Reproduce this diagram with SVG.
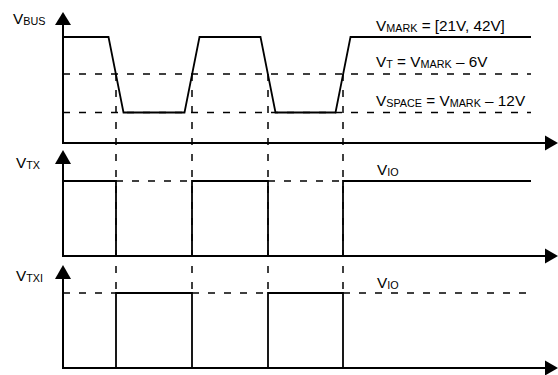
<svg xmlns="http://www.w3.org/2000/svg" width="558" height="375" viewBox="0 0 558 375">
<style>
.ax{fill:none;stroke:#000;stroke-width:2}
.sig{fill:none;stroke:#000;stroke-width:1.8}
.dash{fill:none;stroke:#000;stroke-width:1.5;stroke-dasharray:7 9}
.lbl{font-family:"Liberation Sans",Arial,sans-serif;font-size:15.3px;fill:#000}
.sub{font-size:10.8px}
.ah{fill:#000;stroke:none}
</style>
<rect width="558" height="375" fill="#fff"/>
<g id="connectors">
  <path class="dash" d="M63,74 H531 M63,112.5 H531"/>
  <path class="dash" d="M116,74 V293 M192,74 V293 M268,74 V293 M343,74 V293"/>
  <path class="dash" d="M116,181 H192 M268,181 H343"/>
  <path class="dash" d="M63,293 H116 M192,293 H268 M343,293 H531"/>
</g>
<g id="chart-vbus">
  <path class="ax" d="M63,22 V143 H546"/>
  <polygon class="ah" points="63,12 55,25 71,25"/>
  <polygon class="ah" points="558,143 545,135.5 545,150.5"/>
  <path class="sig" d="M63,37 H108.5 L123.5,112.5 H184.5 L199.5,37 H260.5 L275.5,112.5 H335.5 L350.5,37 H531"/>
  <text class="lbl" x="13" y="24">V<tspan class="sub" dy="1">BUS</tspan></text>
  <text class="lbl" x="376" y="31">V<tspan class="sub" dy="1">MARK</tspan><tspan dy="-1"> = [21V, 42V]</tspan></text>
  <text class="lbl" x="376" y="67">V<tspan class="sub" dy="1">T</tspan><tspan dy="-1"> = V</tspan><tspan class="sub" dy="1">MARK</tspan><tspan dy="-1"> – 6V</tspan></text>
  <text class="lbl" x="376" y="106">V<tspan class="sub" dy="1">SPACE</tspan><tspan dy="-1"> = V</tspan><tspan class="sub" dy="1">MARK</tspan><tspan dy="-1"> – 12V</tspan></text>
</g>
<g id="chart-vtx">
  <path class="ax" d="M63,162 V256 H546"/>
  <polygon class="ah" points="63,150 55,164 71,164"/>
  <polygon class="ah" points="558,256 545,248.5 545,263.5"/>
  <path class="sig" d="M63,181 H116 V256 M192,256 V181 H268 V256 M343,256 V181 H531"/>
  <text class="lbl" x="16" y="168">V<tspan class="sub" dy="1">TX</tspan></text>
  <text class="lbl" x="377" y="175">V<tspan class="sub" dy="1">IO</tspan></text>
</g>
<g id="chart-vtxi">
  <path class="ax" d="M63,277 V368 H546"/>
  <polygon class="ah" points="63,265 55,279 71,279"/>
  <polygon class="ah" points="558,368 545,360.5 545,375.5"/>
  <path class="sig" d="M116,368 V293 H192 V368 M268,368 V293 H343 V368"/>
  <text class="lbl" x="16" y="281">V<tspan class="sub" dy="1">TXI</tspan></text>
  <text class="lbl" x="377" y="288">V<tspan class="sub" dy="1">IO</tspan></text>
</g>
</svg>
